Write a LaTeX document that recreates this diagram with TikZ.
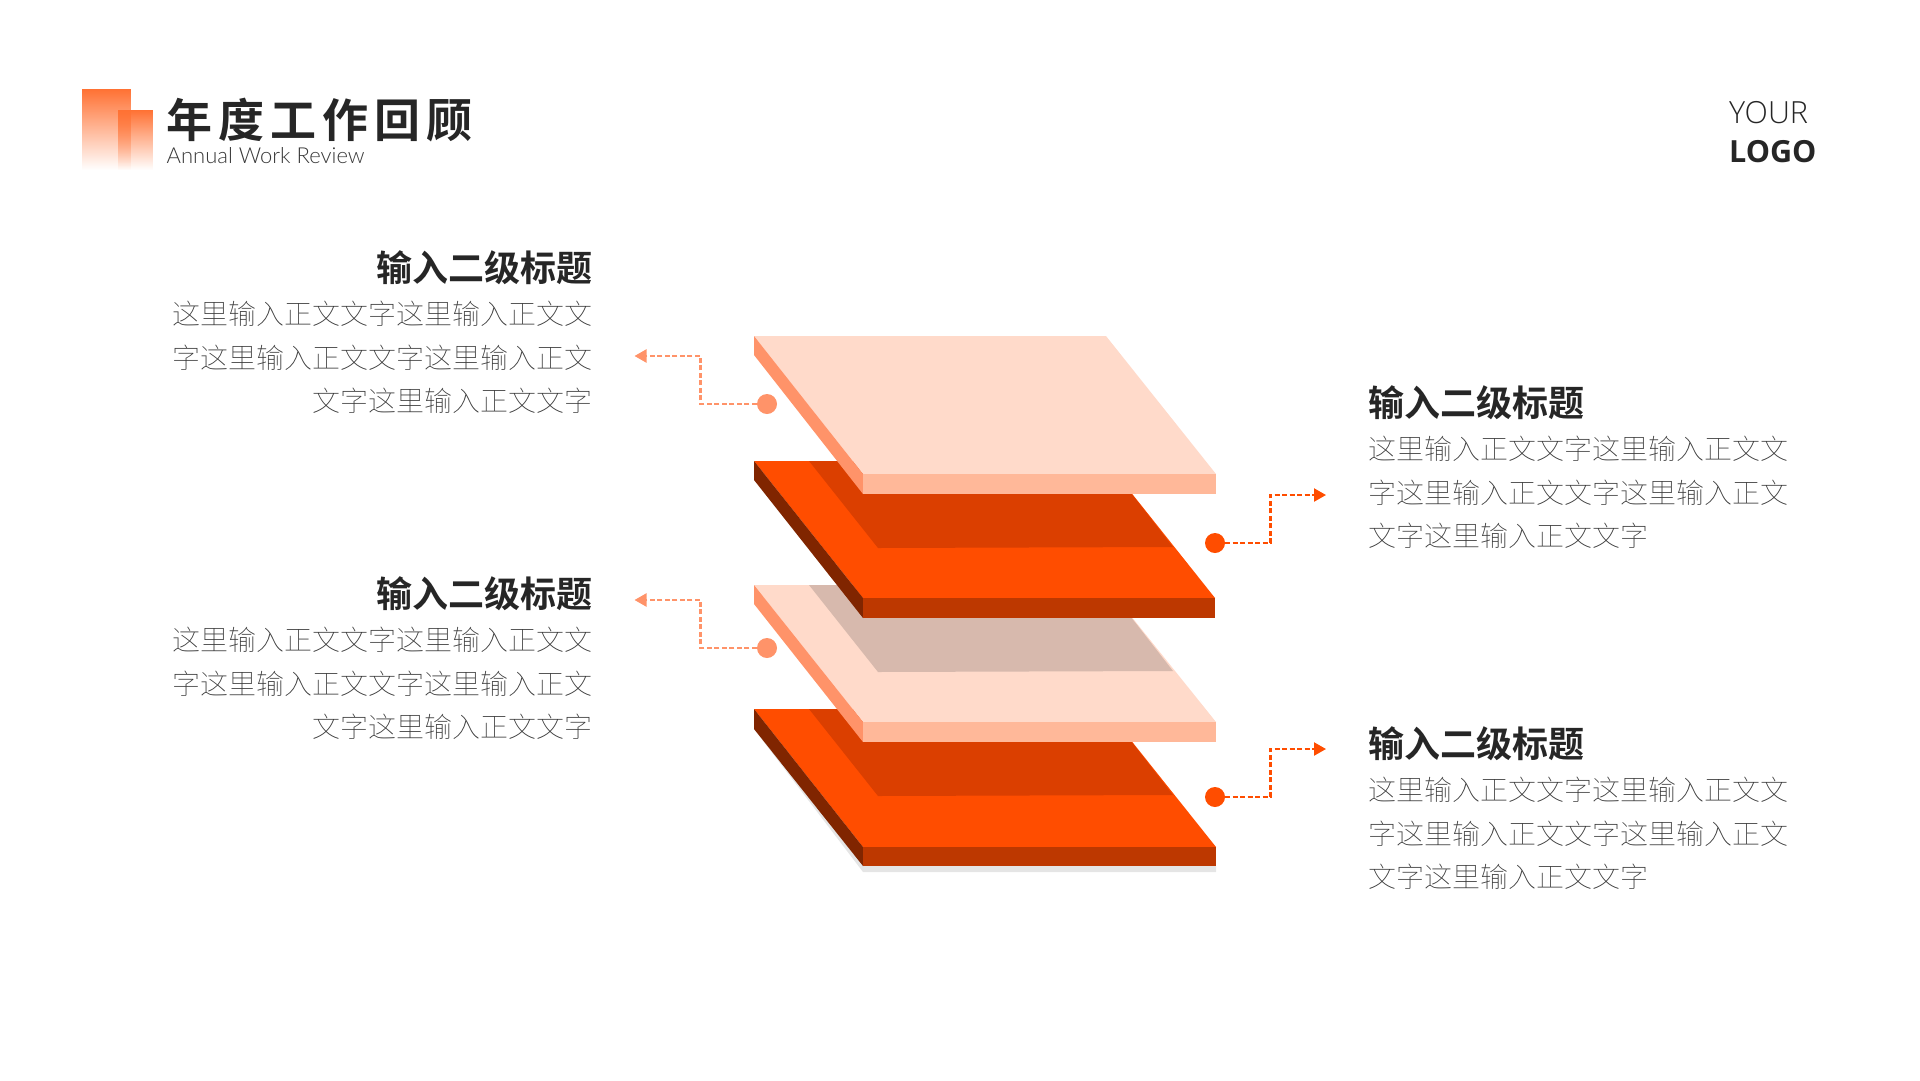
\documentclass[tikz,border=0pt]{standalone}
\usepackage{fontspec}
\usetikzlibrary{positioning, arrows.meta, fadings}
\setmainfont{Noto Sans CJK SC}
\newfontfamily\titlefont[LetterSpace=13]{Noto Sans CJK SC Bold}
\newfontfamily\headfont{Noto Sans CJK SC Bold}
\newfontfamily\bodyfont{Noto Sans CJK SC Thin}
\newfontfamily\logofont{Open Sans}
\newfontfamily\logothin{Open Sans Light}
\newfontfamily\subfont{Lato Light}
\definecolor{inkdark}{HTML}{262626}
\definecolor{inkbody}{HTML}{383838}
\definecolor{paletop}{HTML}{FFDACA}
\definecolor{palefront}{HTML}{FFB899}
\definecolor{paleside}{HTML}{FF9369}
\definecolor{paleshade}{HTML}{D7B9AD}
\definecolor{deeptop}{HTML}{FF4D00}
\definecolor{deepfront}{HTML}{BD3800}
\definecolor{deepside}{HTML}{802500}
\definecolor{deepshade}{HTML}{DB3F00}
\tikzset{
	x=1pt, % un pixel de la referencia
	y=-1pt, % el eje y va hacia abajo
	>={Triangle[length=12pt,width=13pt]}, % punta de las flechas
	head/.style={font=\headfont\fontsize{36}{40}\selectfont, text=inkdark, inner sep=0pt},
	copy/.style={font=\bodyfont\fontsize{28}{43.5}\selectfont, text=inkbody, inner sep=0pt},
	dot/.style={circle, inner sep=0pt, minimum size=20pt},
	link/.style={->, line width=2.2pt, dash pattern=on 5pt off 2.5pt},
	bar/.style={draw=none, path fading=south}
}
\begin{document}
\begin{tikzpicture}
	\useasboundingbox (0,0) rectangle (1920,1080);
	% logo de la cabecera
	\fill[bar, fill=deeptop!80] (82,89) rectangle (131,170);
	\fill[bar, fill=deeptop!80] (118,110) rectangle (153,170);
	\node[anchor=west, inner sep=0pt, text=inkdark, font=\titlefont\fontsize{46}{50}\selectfont] (title) at (166,120) {年度工作回顾};
	\node[anchor=west, inner sep=0pt, text=inkbody, font=\subfont\fontsize{22}{25}\selectfont] (subtitle) at (166.5,156) {Annual Work Review};
	\node[anchor=base west, inner sep=0pt, text=inkdark, font=\logothin\fontsize{30.5}{34}\selectfont] (your) at (1729,123) {YOUR};
	\node[anchor=base west, inner sep=0pt, text=inkdark, font=\logofont\bfseries\fontsize{30.5}{34}\selectfont] (logo) at (1729,162) {LOGO};
	% placa 4
	\fill[black!10] (754,729) -- (863,872) -- (1216,872) -- (1216,866) -- (863,866) -- cycle;
	\fill[deeptop] (754,709) -- (1106,709) -- (1216,847) -- (863,847) -- cycle;
	\fill[deepside] (754,709) -- (863,847) -- (863,866) -- (754,729) -- cycle;
	\fill[deepfront] (863,847) -- (1216,847) -- (1216,866) -- (863,866) -- cycle;
	\fill[deepshade] (809,709) -- (1106,709) -- (1173,795) -- (878,796) -- cycle;
	% placa 3
	\fill[paletop] (754,585) -- (1106,585) -- (1216,722) -- (863,722) -- cycle;
	\fill[paleside] (754,585) -- (863,722) -- (863,742) -- (754,604) -- cycle;
	\fill[palefront] (863,722) -- (1216,722) -- (1216,742) -- (863,742) -- cycle;
	\fill[paleshade] (809,585) -- (1106,585) -- (1173,671) -- (878,672) -- cycle;
	% placa 2
	\fill[deeptop] (754,461) -- (1106,461) -- (1215,598) -- (863,598) -- cycle;
	\fill[deepside] (754,461) -- (863,598) -- (863,618) -- (754,480) -- cycle;
	\fill[deepfront] (863,598) -- (1215,598) -- (1215,618) -- (863,618) -- cycle;
	\fill[deepshade] (809,461) -- (1106,461) -- (1173,547) -- (878,548) -- cycle;
	% placa 1
	\fill[paletop] (754,336) -- (1106,336) -- (1216,474) -- (863,474) -- cycle;
	\fill[paleside] (754,336) -- (863,474) -- (863,494) -- (754,355) -- cycle;
	\fill[palefront] (863,474) -- (1216,474) -- (1216,494) -- (863,494) -- cycle;
	% puntos y conectores
	\node[dot, fill=paleside] (d1) at (767,404) {};
	\node[dot, fill=deeptop] (d2) at (1215,543) {};
	\node[dot, fill=paleside] (d3) at (767,648) {};
	\node[dot, fill=deeptop] (d4) at (1215,797) {};
	\coordinate (c1) at (700.5,356);
	\coordinate (a1) at (634.5,356);
	\coordinate (c2) at (1270.5,495);
	\coordinate (a2) at (1326,495);
	\coordinate (c3) at (700.5,600);
	\coordinate (a3) at (634.5,600);
	\coordinate (c4) at (1270.5,749);
	\coordinate (a4) at (1326,749);
	\draw[link, draw=paleside] (d1) -| (c1) -- (a1);
	\draw[link, draw=deeptop] (d2) -| (c2) -- (a2);
	\draw[link, draw=paleside] (d3) -| (c3) -- (a3);
	\draw[link, draw=deeptop] (d4) -| (c4) -- (a4);
	% textos
	\node[head, anchor=east] (h1) at (592.5,268) {输入二级标题};
	\node[copy, align=right, below=16pt of h1.south east, anchor=north east] (t1) {这里输入正文文字这里输入正文文\\字这里输入正文文字这里输入正文\\文字这里输入正文文字};
	\node[head, anchor=east] (h3) at (592.5,594) {输入二级标题};
	\node[copy, align=right, below=16pt of h3.south east, anchor=north east] (t3) {这里输入正文文字这里输入正文文\\字这里输入正文文字这里输入正文\\文字这里输入正文文字};
	\node[head, anchor=west] (h2) at (1368.5,403) {输入二级标题};
	\node[copy, align=left, below=16pt of h2.south west, anchor=north west] (t2) {这里输入正文文字这里输入正文文\\字这里输入正文文字这里输入正文\\文字这里输入正文文字};
	\node[head, anchor=west] (h4) at (1368.5,744) {输入二级标题};
	\node[copy, align=left, below=16pt of h4.south west, anchor=north west] (t4) {这里输入正文文字这里输入正文文\\字这里输入正文文字这里输入正文\\文字这里输入正文文字};
\end{tikzpicture}
\end{document}
